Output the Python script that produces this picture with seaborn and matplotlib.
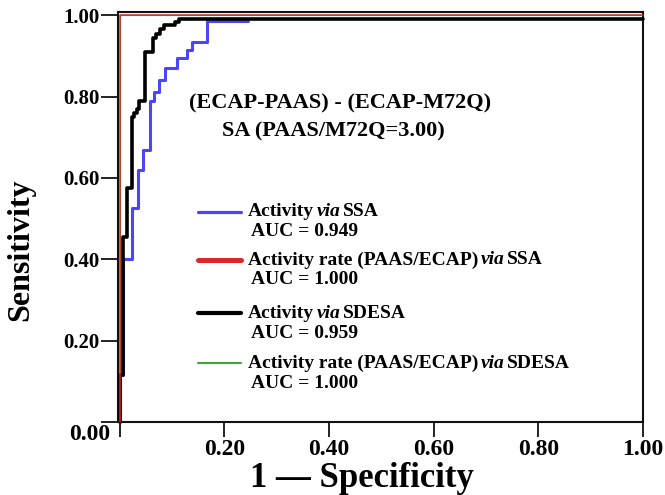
import numpy as np
import pandas as pd
import seaborn as sns
import matplotlib
matplotlib.use("Agg")
import matplotlib.pyplot as plt
from matplotlib.lines import Line2D
from matplotlib.transforms import IdentityTransform

# ---------------- data ----------------
# staircase ROC points (fpr, tpr), drawn with steps-pre
blue_fpr = [0, 0.0065, 0.024, 0.034, 0.045, 0.058, 0.065, 0.074, 0.086, 0.109, 0.128, 0.137, 0.166, 0.245]
blue_tpr = [0, 0.115, 0.40, 0.525, 0.62, 0.668, 0.79, 0.811, 0.84, 0.87, 0.894, 0.914, 0.934, 0.985]

black_fpr = [0, 0.0065, 0.0135, 0.0225, 0.027, 0.032, 0.036, 0.048, 0.064, 0.070, 0.076, 0.085, 0.105, 0.114, 1.0]
black_tpr = [0, 0.115, 0.455, 0.575, 0.75, 0.76, 0.77, 0.79, 0.91, 0.943, 0.955, 0.967, 0.975, 0.983, 0.99]

red_fpr = [0, 0, 1.0]
red_tpr = [0, 1.0, 1.0]
green_fpr = [0, 0, 1.0]
green_tpr = [0, 1.0, 1.0]

series_names = ["Activity via SSA", "Activity rate (PAAS/ECAP) via SSA",
                "Activity via SDESA", "Activity rate (PAAS/ECAP) via SDESA"]
auc_values = [0.949, 1.000, 0.959, 1.000]

tick_values = [0.0, 0.2, 0.4, 0.6, 0.8, 1.0]
tick_labels = ["0.00", "0.20", "0.40", "0.60", "0.80", "1.00"]

title_lines = ["(ECAP-PAAS) - (ECAP-M72Q)", "SA (PAAS/M72Q=3.00)"]

# ---------------- style ----------------
sns.set_theme(style="white")
plt.rcParams["font.family"] = ["Liberation Serif", "DejaVu Serif"]
plt.rcParams["font.weight"] = "bold"
plt.rcParams["text.color"] = "black"
plt.rcParams["axes.labelcolor"] = "black"
plt.rcParams["xtick.color"] = "black"
plt.rcParams["ytick.color"] = "black"

W, H = 665, 495
fig = plt.figure(figsize=(W / 100, H / 100), dpi=100)
ax = fig.add_axes([118 / W, 1 - 422 / H, (643 - 118) / W, (422 - 12) / H])

C_BLUE = "#4a46f5"
C_RED = "#d42a2a"
C_BLACK = "#000000"
C_GREEN = "#3aa838"

def roc(fpr, tpr, color, lw, z):
    df = pd.DataFrame({"fpr": fpr, "tpr": tpr})
    sns.lineplot(data=df, x="fpr", y="tpr", ax=ax, sort=False, estimator=None,
                 color=color, linewidth=lw, drawstyle="steps-pre", zorder=z,
                 clip_on=False)

roc(green_fpr, green_tpr, C_GREEN, 0.8, 1.5)
roc(blue_fpr, blue_tpr, C_BLUE, 2.2, 3)
roc(black_fpr, black_tpr, C_BLACK, 2.6, 4)
roc(red_fpr, red_tpr, C_RED, 1.1, 5)

ax.set_xlim(-0.0035, 1.0)
ax.set_ylim(0, 1.008)

for s in ax.spines.values():
    s.set_linewidth(1.5)
    s.set_color("#111111")
    s.set_zorder(2)

ax.set_xticks(tick_values)
ax.set_xticklabels([""] + tick_labels[1:], fontsize=17, fontweight="bold", color="black")
ax.set_yticks(tick_values)
ax.set_yticklabels([""] + tick_labels[1:], fontsize=15, fontweight="bold", color="black")
ax.tick_params(axis="x", direction="out", length=10.5, width=1.3, pad=2, color="#111111",
               bottom=True)
ax.tick_params(axis="y", direction="out", length=12.5, width=1.3, pad=1, color="#111111",
               left=True)

ax.set_xlabel("1 \u2014 Specificity", fontsize=25, fontweight="bold", color="black")
ax.xaxis.set_label_coords(0.465, -0.098)
ax.set_ylabel("Sensitivity", fontsize=23, fontweight="bold", color="black")
ax.yaxis.set_label_coords(-0.158, 0.42)

ID = IdentityTransform()
# origin label
fig.text(110, H - 435, tick_labels[0], transform=ID, ha="right", va="center",
         fontsize=17, fontweight="bold", color="black")

# annotation
fig.text(340, H - 103, title_lines[0], transform=ID, ha="center", va="center",
         fontsize=16, fontweight="bold", color="black")
fig.text(333, H - 131, title_lines[1], transform=ID, ha="center", va="center",
         fontsize=16, fontweight="bold", color="black")

# legend (manual)
renderer = fig.canvas.get_renderer()

def width_of(s, style, size):
    t = fig.text(0, 0, s, transform=ID, fontsize=size, fontweight="bold", fontstyle=style)
    w = t.get_window_extent(renderer).width
    t.remove()
    return w

def rich(x, y, parts, size):
    space = width_of("A A", "normal", size) - width_of("AA", "normal", size)
    cx = x
    for i, (s, style) in enumerate(parts):
        t = fig.text(cx, H - y, s, transform=ID, ha="left", va="center",
                     fontsize=size, fontweight="bold", fontstyle=style, color="black")
        cx += t.get_window_extent(renderer).width
        if i < len(parts) - 1:
            cx += space

leg_colors = [C_BLUE, C_RED, C_BLACK, C_GREEN]
leg_lw = [2.3, 3.6, 3.0, 1.5]
row_y = [212, 260, 313, 363]
auc_y = [231, 280, 333, 383]
for name, auc, col, lw, ry, ay in zip(series_names, auc_values, leg_colors, leg_lw, row_y, auc_y):
    fig.add_artist(Line2D([198, 241], [H - ry, H - ry], transform=ID, color=col, linewidth=lw))
    pre, post = name.split(" via ")
    rich(248, ry, [(pre, "normal"), ("via", "italic"), (post, "normal")], 14)
    fig.text(251, H - ay, f"AUC = {auc:.3f}", transform=ID, ha="left", va="center",
             fontsize=14, fontweight="bold", color="black")

fig.savefig("out.png", dpi=100)
